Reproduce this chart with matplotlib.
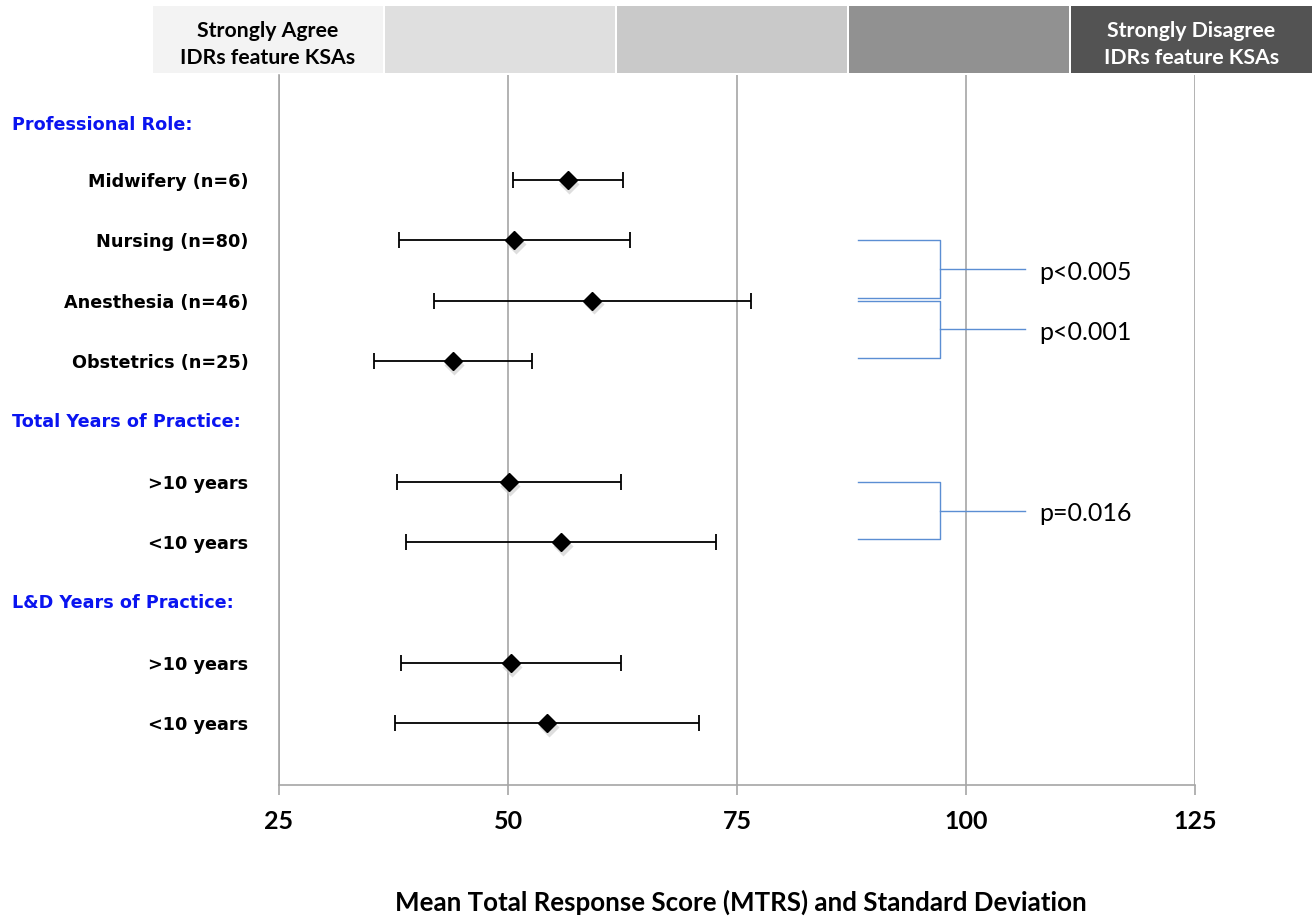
import numpy as np
import matplotlib
matplotlib.use("Agg")
import matplotlib.pyplot as plt
from matplotlib.patches import Rectangle
from matplotlib.transforms import blended_transform_factory

# sections and their subgroups
sections = ["Professional Role:", "Total Years of Practice:", "L&D Years of Practice:"]
section_sizes = [4, 2, 2]
labels = ["Midwifery (n=6)", "Nursing (n=80)", "Anesthesia (n=46)", "Obstetrics (n=25)",
          ">10 years", "<10 years", ">10 years", "<10 years"]
means = [56.5, 50.7, 59.2, 44.0, 50.1, 55.8, 50.3, 54.3]
sds = [6.0, 12.6, 17.3, 8.65, 12.2, 16.9, 12.0, 16.6]

# significance brackets between subgroup pairs (index into labels)
p_pairs = [(1, 2), (2, 3), (4, 5)]
p_labels = ["p<0.005", "p<0.001", "p=0.016"]

# likert scale banner across the top
scale_labels = ["Strongly Agree\nIDRs feature KSAs", "", "", "", "Strongly Disagree\nIDRs feature KSAs"]
scale_colors = ["#f3f3f3", "#dfdfdf", "#c9c9c9", "#919191", "#535353"]
scale_edges = [153, 385, 617, 849, 1071, 1314]

xticks = [25, 50, 75, 100, 125]

NARROW = ["Lato", "DejaVu Sans"]
WIDE = ["DejaVu Sans"]
BLUE_TXT = "#0a14f0"
BRACKET = "#5b8ed3"

# row positions: header row, then one row per subgroup
rows, head_rows = [], []
r = 0
for n in section_sizes:
    head_rows.append(r)
    rows.extend(range(r + 1, r + 1 + n))
    r += n + 1
rows = np.array(rows)

W, H = 1314, 921
fig = plt.figure(figsize=(W / 100, H / 100), dpi=100)
ax = fig.add_axes([279 / W, 1 - 785 / H, (1195 - 279) / W, (785 - 75) / H])

ax.set_xlim(25, 125)
ax.set_ylim(11.02, -0.74)

for x in xticks:
    ax.axvline(x, color="#a6a6a6", lw=1.2, zorder=0)

ax.errorbar(means, rows, xerr=sds, fmt="none", ecolor="black", elinewidth=1.3,
            capsize=5.5, capthick=1.3, zorder=3)
# soft shadow under the diamonds
ax.plot(np.array(means) + 0.15, rows + 0.06, "D", ms=10, color="#c8c8c8", alpha=0.6,
        mec="none", zorder=3)
ax.plot(means, rows, "D", ms=9, color="black", zorder=4)

for sp in ["top", "right"]:
    ax.spines[sp].set_visible(False)
ax.spines["left"].set_color("#a6a6a6")
ax.spines["bottom"].set_color("#a6a6a6")
ax.spines["left"].set_linewidth(1.2)
ax.spines["bottom"].set_linewidth(1.2)

ax.set_xticks(xticks)
ax.set_xticklabels([str(x) for x in xticks], fontfamily=NARROW, fontweight="bold", fontsize=18)
ax.tick_params(axis="x", length=7, width=1.2, color="#a6a6a6", pad=11)
ax.set_yticks(rows)
ax.set_yticklabels(labels, fontfamily=WIDE, fontweight="bold", fontsize=12.7)
ax.tick_params(axis="y", length=0, pad=22)

trans = blended_transform_factory(fig.transFigure, ax.transData)
for hr, name in zip(head_rows, sections):
    ax.text(12 / W, hr + (0.09 if hr == 0 else 0), name, transform=trans, ha="left", va="center",
            fontfamily=WIDE, fontweight="bold", fontsize=12.7, color=BLUE_TXT)

# brackets
x0, x1, x2 = 88.2, 97.2, 106.4
for (a, b), txt in zip(p_pairs, p_labels):
    ya, yb = rows[a] + 0.0, rows[b] - 0.05
    ym = (ya + yb) / 2
    ax.plot([x0, x1, x1, x0], [ya, ya, yb, yb], color=BRACKET, lw=1.0, zorder=2)
    ax.plot([x1, x2], [ym, ym], color=BRACKET, lw=1.0, zorder=2)
    ax.text(x2 + 1.6, ym + 0.05, txt, ha="left", va="center", fontfamily=NARROW, fontsize=18)

# scale banner
for i, (lab, col) in enumerate(zip(scale_labels, scale_colors)):
    left, right = scale_edges[i], scale_edges[i + 1] - 2
    fig.patches.append(Rectangle((left / W, 1 - 73 / H), (right - left) / W, 67 / H,
                                 transform=fig.transFigure, facecolor=col, edgecolor="none"))
    if lab:
        fig.text((left + right) / 2 / W, 1 - 44.5 / H, lab, ha="center", va="center",
                 fontfamily=NARROW, fontweight="bold", fontsize=15.3, linespacing=1.45,
                 color="white" if i == 4 else "black")

fig.text(741 / W, 1 - 902 / H, "Mean Total Response Score (MTRS) and Standard Deviation",
         ha="center", va="center", fontfamily=NARROW, fontweight="bold", fontsize=18.6)

fig.savefig("out.png", dpi=100, facecolor="white")
